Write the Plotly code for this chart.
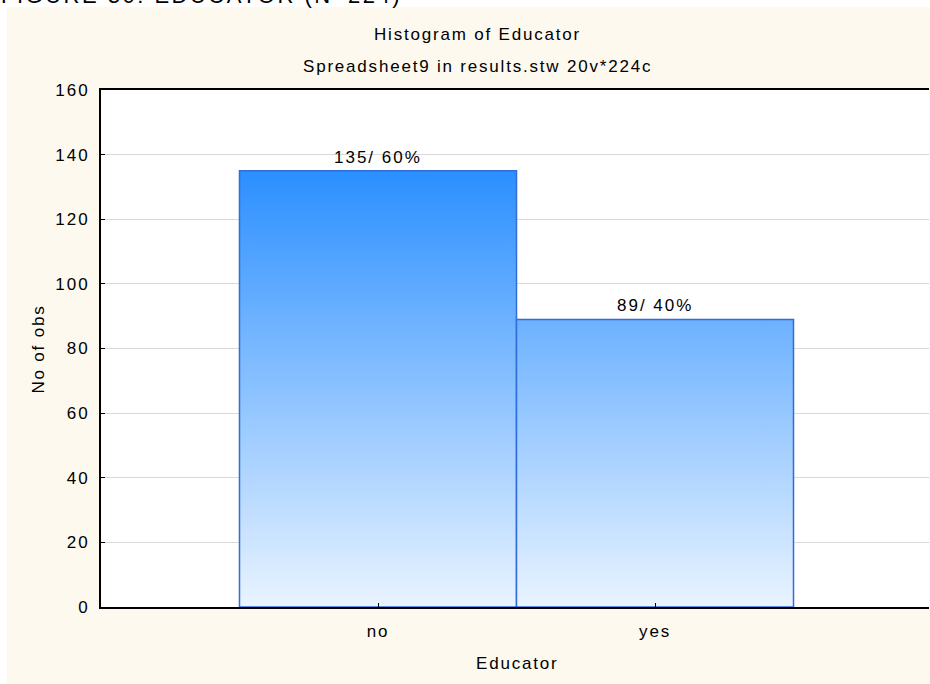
import plotly.graph_objects as go

# Data
categories = ["no", "yes"]
counts = [135, 89]
y_ticks = [0, 20, 40, 60, 80, 100, 120, 140, 160]

total = sum(counts)
labels = [f"{c}/ {round(100 * c / total):.0f}%" for c in counts]

W, H = 930, 684
ML, MR, MT, MB = 101, 1, 90, 77
plot_w = W - ML - MR
plot_h = H - MT - MB

CREAM = "#FDF9EF"
FONT = "Liberation Sans, Arial, sans-serif"


def spaced(s, px=2.0):
    """Wrap text in a span with extra letter spacing."""
    return f'<span style="letter-spacing:{px}px">{s}</span>'


fig = go.Figure()

# Bars drawn as filled rectangles with a shared vertical gradient
for i, (cat, v) in enumerate(zip(categories, counts)):
    fig.add_trace(go.Scatter(
        x=[i - 0.5, i - 0.5, i + 0.5, i + 0.5, i - 0.5],
        y=[0, v, v, 0, 0],
        mode="lines",
        fill="toself",
        fillgradient=dict(
            type="vertical",
            start=0,
            stop=max(counts),
            colorscale=[[0, "#EAF4FF"], [1, "#2B8FFF"]],
        ),
        line=dict(color="#2F6CDC", width=1.5),
        hoverinfo="skip",
        showlegend=False,
        name=cat,
    ))

shapes = [
    # white strip along the top and left of the cream panel
    dict(type="rect", xref="paper", yref="paper",
         x0=-ML / plot_w - 0.01, x1=1 + MR / plot_w + 0.01,
         y0=1 + (MT - 7) / plot_h, y1=1 + MT / plot_h + 0.01,
         fillcolor="white", line=dict(width=0), layer="below"),
    dict(type="rect", xref="paper", yref="paper",
         x0=-ML / plot_w - 0.01, x1=(7 - ML) / plot_w,
         y0=-MB / plot_h - 0.01, y1=1 + MT / plot_h + 0.01,
         fillcolor="white", line=dict(width=0), layer="below"),
]


def py(p):
    """pixel row -> paper y"""
    return (MT + plot_h - p) / plot_h


def px(p):
    """pixel column -> paper x"""
    return (p - ML) / plot_w


txt_font = dict(family=FONT, size=17, color="#000000")

annotations = [
    dict(text=spaced("FIGURE 30: EDUCATOR (N=224)", 2.5), xref="paper", yref="paper",
         x=px(-1), y=py(-5), xanchor="left", yanchor="middle", showarrow=False,
         font=dict(family=FONT, size=22, color="#000000")),
    dict(text=spaced("Histogram of Educator", 1.8), xref="paper", yref="paper",
         x=px(477), y=py(35), xanchor="center", yanchor="middle", showarrow=False,
         font=txt_font),
    dict(text=spaced("Spreadsheet9 in results.stw 20v*224c", 1.8), xref="paper", yref="paper",
         x=px(477), y=py(66), xanchor="center", yanchor="middle", showarrow=False,
         font=txt_font),
    dict(text=spaced("No of obs", 1.8), xref="paper", yref="paper",
         x=px(38), y=0.5, xanchor="center", yanchor="middle", showarrow=False,
         textangle=-90, font=txt_font),
    dict(text=spaced("Educator", 1.8), xref="paper", yref="paper",
         x=px(517), y=py(663), xanchor="center", yanchor="middle", showarrow=False,
         font=txt_font),
]

# Value / percent labels above each bar
for i, (v, lab) in enumerate(zip(counts, labels)):
    annotations.append(dict(
        text=spaced(lab, 2.0), x=i, y=v, xref="x", yref="y",
        xanchor="center", yanchor="bottom", yshift=2, showarrow=False,
        font=txt_font,
    ))

fig.update_layout(
    width=W, height=H,
    margin=dict(l=ML, r=MR, t=MT, b=MB),
    paper_bgcolor=CREAM,
    plot_bgcolor="white",
    shapes=shapes,
    annotations=annotations,
    font=txt_font,
    xaxis=dict(
        range=[-1, -1 + plot_w / 277],
        tickvals=list(range(len(categories))),
        ticktext=[spaced(c, 1.8) for c in categories],
        ticks="inside", ticklen=4, tickcolor="#000000", tickwidth=1,
        showgrid=False, zeroline=False,
        showline=True, linecolor="#000000", linewidth=2, mirror=True,
        tickfont=txt_font,
        ticklabelstandoff=8,
    ),
    yaxis=dict(
        range=[0, 160],
        tickvals=y_ticks,
        ticktext=[spaced(str(t), 2.0) for t in y_ticks],
        ticks="inside", ticklen=4, tickcolor="#000000", tickwidth=1,
        showgrid=True, gridcolor="#D9D9D9", gridwidth=1,
        zeroline=False,
        showline=True, linecolor="#000000", linewidth=2,
        tickfont=txt_font,
        ticklabelstandoff=6,
    ),
)

fig.write_html("out.html")
